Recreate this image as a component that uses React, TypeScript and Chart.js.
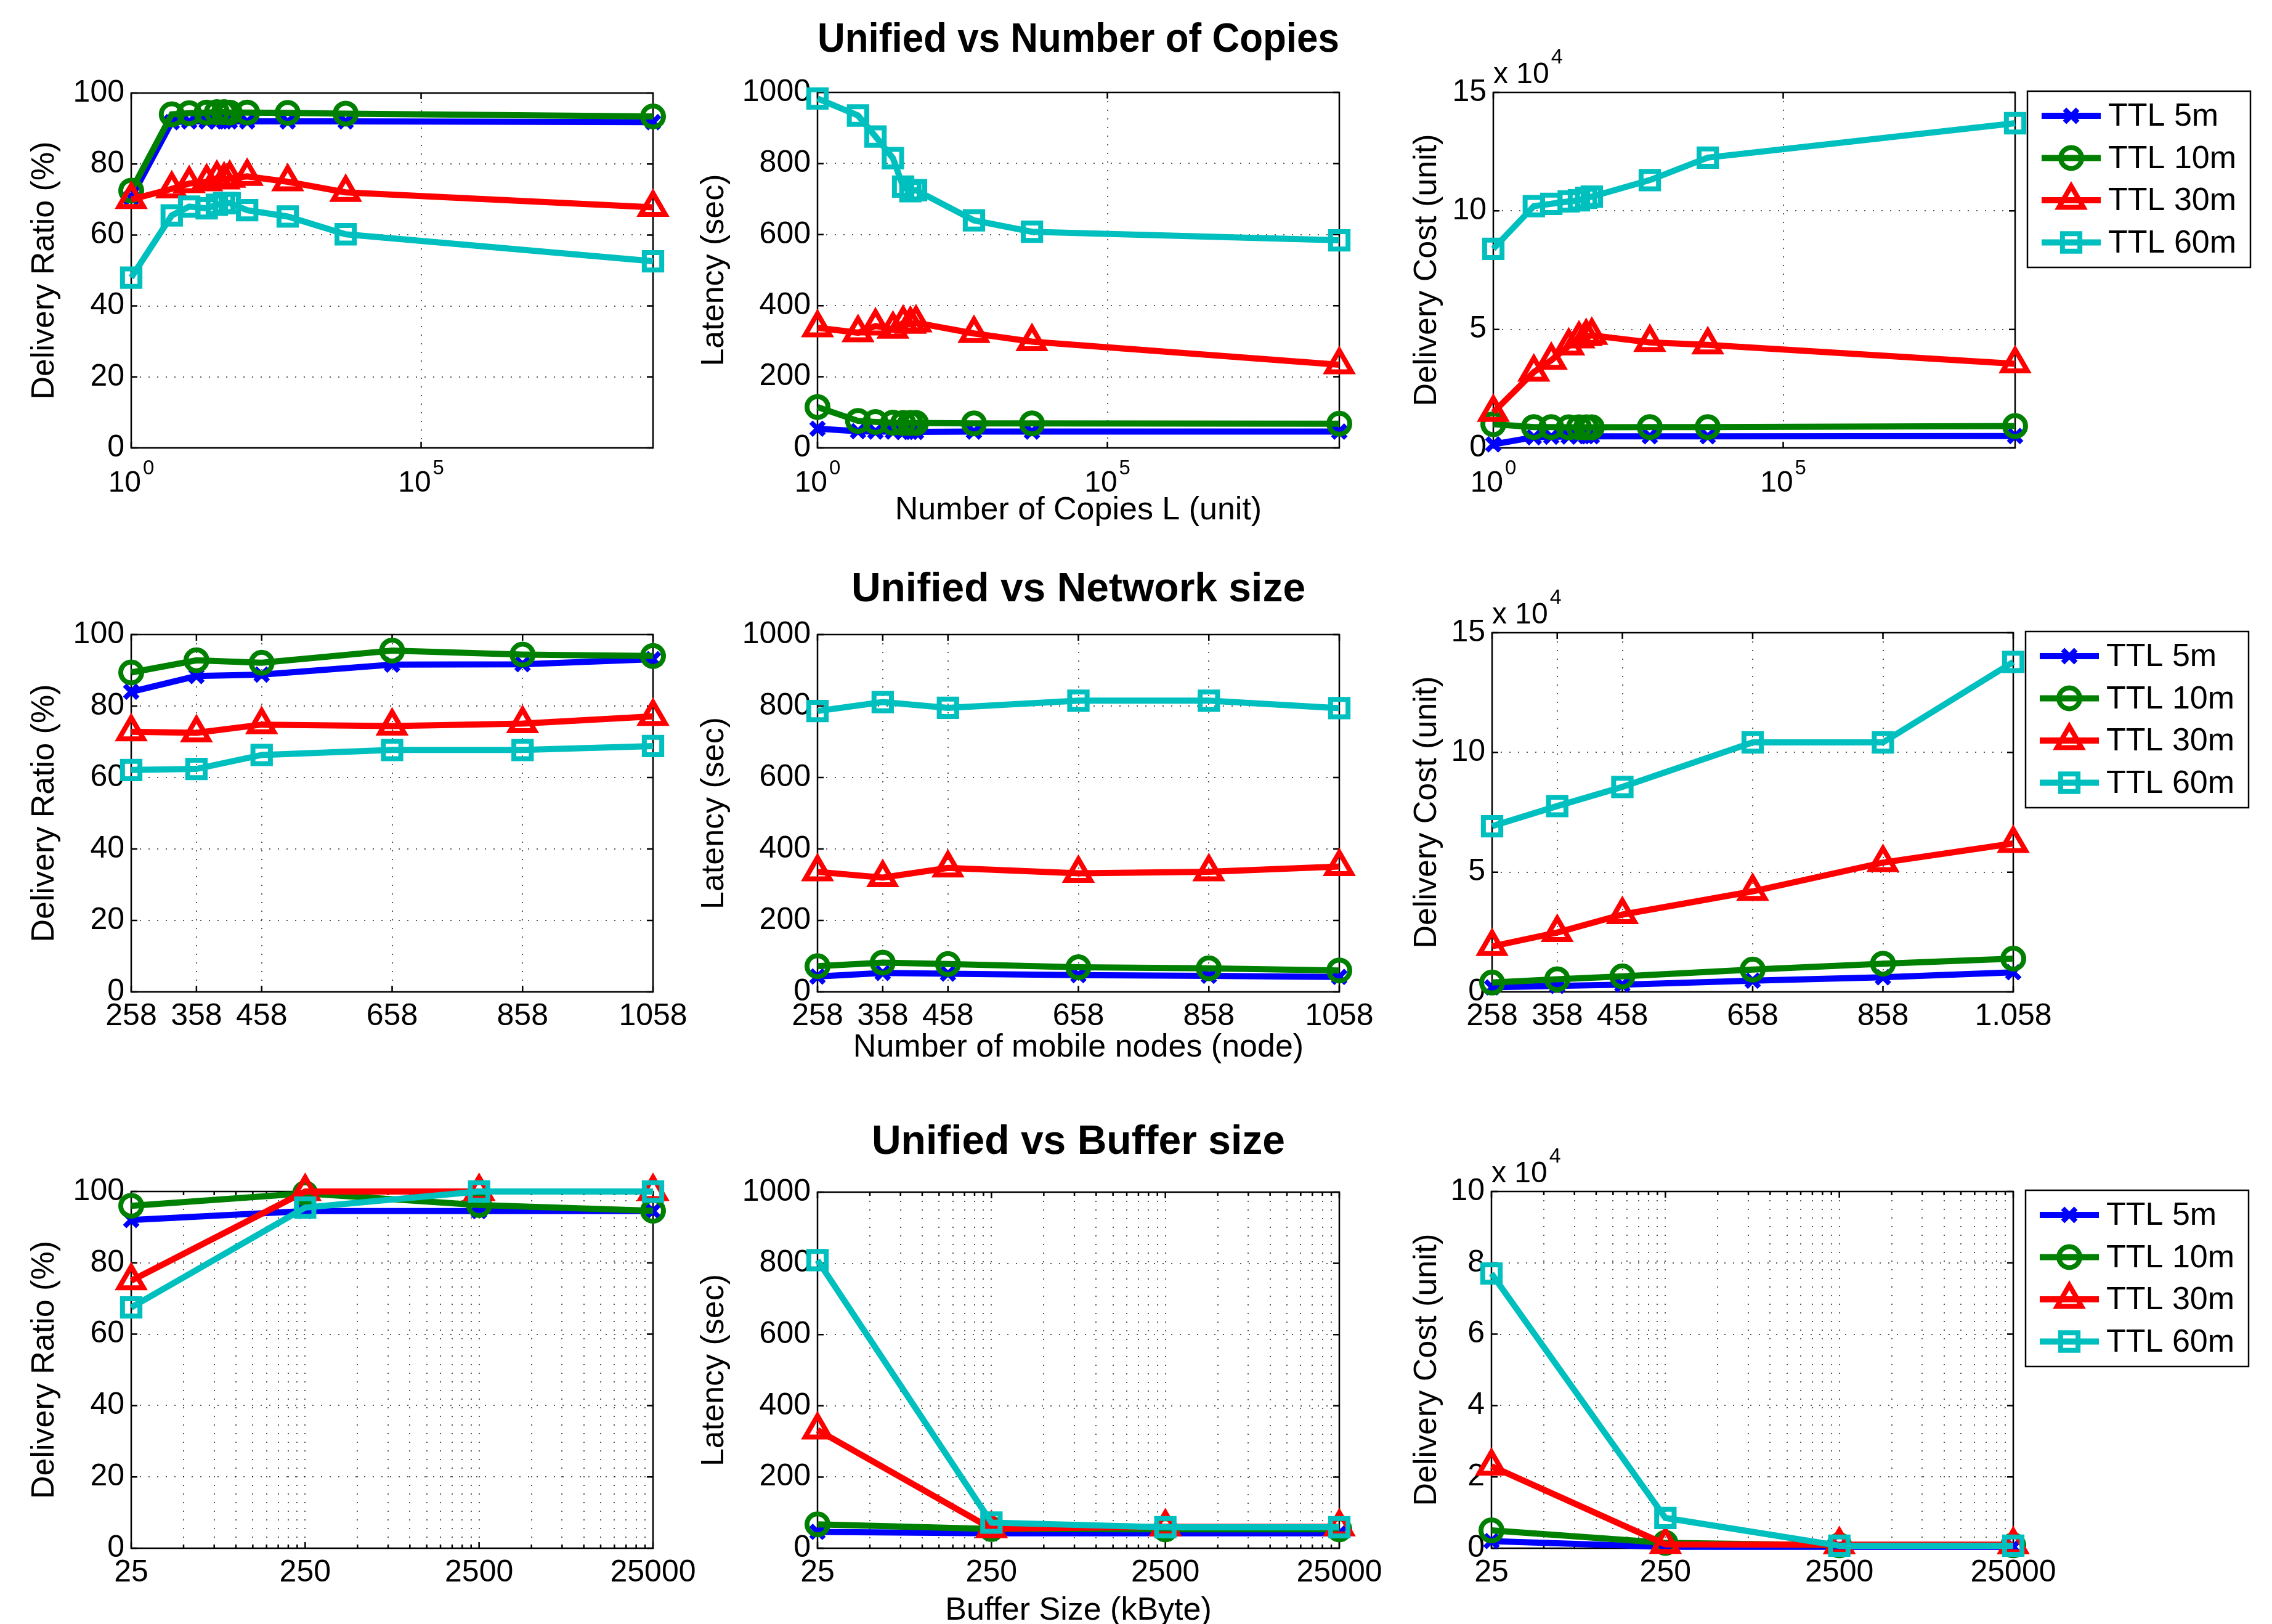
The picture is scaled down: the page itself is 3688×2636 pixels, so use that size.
import React, { useEffect, useRef } from 'react';
import { Chart, registerables } from 'chart.js';

Chart.register(...registerables);

const FONT = '"Liberation Sans", Arial, Helvetica, sans-serif';
Chart.defaults.font.family = FONT;
Chart.defaults.color = '#000';

// ---------- series styling ----------
const seriesLabels = ['TTL 5m', 'TTL 10m', 'TTL 30m', 'TTL 60m'];
const seriesColors = ['#0000ff', '#008000', '#ff0000', '#00bfbf'];
const seriesMarkers = ['crossRot', 'circle', 'triangle', 'rect'];
const seriesMarkerRadius = [15, 17, 23, 20];

// ---------- Row 1: Unified vs Number of Copies ----------
const copiesXRatio = [1, 5, 10, 20, 30, 40, 50, 100, 500, 5000, 1e9];
const copiesX = [1, 5, 10, 20, 30, 40, 50, 500, 5000, 1e9];
const copiesTickValues = [1, 100000];
const copiesTickExponents = ['0', '5'];

const ratioCopies5m = [70.5, 91.8, 92, 92, 92, 92, 92, 92, 92, 92, 91.8];
const ratioCopies10m = [72.5, 94, 94.3, 94.5, 94.6, 94.6, 94.5, 94.5, 94.4, 94.2, 93.4];
const ratioCopies30m = [70, 73, 74.5, 75, 76, 75.5, 76, 76.5, 75, 72, 67.8];
const ratioCopies60m = [48, 65.5, 68, 67.5, 68.5, 69, 69, 67, 65.2, 60.2, 52.6];

const latencyCopies5m = [54, 47, 46, 46, 45, 45, 45, 46, 46, 46];
const latencyCopies10m = [115, 76, 73, 71, 70, 70, 70, 69, 69, 68];
const latencyCopies30m = [338, 324, 343, 334, 351, 348, 352, 322, 299, 234];
const latencyCopies60m = [983, 935, 876, 815, 735, 722, 725, 640, 608, 584];

const costCopies5m = [1500, 4500, 4700, 4800, 4900, 4900, 4900, 4900, 4900, 5000];
const costCopies10m = [10000, 8800, 8800, 8700, 8700, 8700, 8700, 8800, 8800, 9200];
const costCopies30m = [15000, 32000, 37000, 43000, 46000, 47000, 47500, 44500, 43500, 35500];
const costCopies60m = [84000, 102000, 103000, 104000, 104500, 105500, 106000, 113000, 122500, 137000];

// ---------- Row 2: Unified vs Network size ----------
const nodesX = [258, 358, 458, 658, 858, 1058];
const nodesTickValues = [258, 358, 458, 658, 858, 1058];
const nodesTickLabels = ['258', '358', '458', '658', '858', '1058'];
const nodesTickLabelsCost = ['258', '358', '458', '658', '858', '1.058'];

const ratioNodes5m = [84, 88.4, 88.8, 91.6, 91.7, 93.1];
const ratioNodes10m = [89.4, 92.8, 92.1, 95.5, 94.4, 94];
const ratioNodes30m = [72.8, 72.5, 74.8, 74.4, 75.1, 77.1];
const ratioNodes60m = [62.1, 62.4, 66.3, 67.7, 67.7, 68.8];

const latencyNodes5m = [43, 53, 51, 47, 45, 42];
const latencyNodes10m = [72, 82, 78, 69, 66, 60];
const latencyNodes30m = [336, 320, 347, 332, 336, 351];
const latencyNodes60m = [786, 811, 795, 815, 815, 794];

const costNodes5m = [1900, 2500, 3000, 4700, 6100, 8200];
const costNodes10m = [3900, 5300, 6500, 9300, 11800, 13900];
const costNodes30m = [19000, 24800, 32300, 42000, 54000, 62000];
const costNodes60m = [69200, 77600, 85600, 104200, 104200, 137800];

// ---------- Row 3: Unified vs Buffer size ----------
const bufferX = [25, 250, 2500, 25000];
const bufferTickValues = [25, 250, 2500, 25000];
const bufferTickLabels = ['25', '250', '2500', '25000'];
const bufferGridValues = [
  25, 50, 75, 100, 125, 150, 175, 200, 225,
  250, 500, 750, 1000, 1250, 1500, 1750, 2000, 2250,
  2500, 5000, 7500, 10000, 12500, 15000, 17500, 20000, 22500,
  25000,
];

const ratioBuffer5m = [92, 94.5, 94.5, 94.5];
const ratioBuffer10m = [96, 99.5, 96.2, 94.6];
const ratioBuffer30m = [75, 100, 100, 100];
const ratioBuffer60m = [67.5, 95.5, 100, 100];

const latencyBuffer5m = [46, 42, 42, 42];
const latencyBuffer10m = [67, 54, 53, 53];
const latencyBuffer30m = [332, 55, 60, 60];
const latencyBuffer60m = [809, 72, 59, 59];

const costBuffer5m = [2000, 400, 400, 400];
const costBuffer10m = [5000, 1500, 800, 800];
const costBuffer30m = [23000, 1100, 1000, 1000];
const costBuffer60m = [77000, 8500, 700, 700];

// ---------- panel layout ----------
type PanelSpec = {
  id: string;
  box: [number, number, number, number];
  area: [number, number, number, number];
  xType: 'linear' | 'logarithmic';
  xMin: number;
  xMax: number;
  xGrid: number[];
  xMajor: number[];
  xLabels: string[] | null;
  powerExps?: string[];
  xs: number[];
  series: number[][];
  yMax: number;
  yStep: number;
  yDiv: number;
  yTitle: string;
  yTitleX: number;
  xTitle?: string;
  xTitleY?: number;
  title?: string;
  titleY?: number;
  legend?: boolean;
  exponent?: boolean;
};

const C1: [number, number] = [0, 1150];
const C2: [number, number] = [1100, 1160];
const C3: [number, number] = [2240, 1448];
const R1: [number, number] = [0, 880];
const R2: [number, number] = [880, 880];
const R3: [number, number] = [1760, 940];

const YT1 = 73, YT2 = 1160, YT3 = 2317;

const PANELS: PanelSpec[] = [
  {
    id: 'p1', box: [C1[0], R1[0], C1[1], R1[1]], area: [213, 151, 1060, 727],
    xType: 'logarithmic', xMin: 1, xMax: 1e9, xGrid: copiesTickValues, xMajor: copiesTickValues,
    xLabels: null, powerExps: copiesTickExponents, xs: copiesXRatio,
    series: [ratioCopies5m, ratioCopies10m, ratioCopies30m, ratioCopies60m],
    yMax: 100, yStep: 20, yDiv: 1, yTitle: 'Delivery Ratio (%)', yTitleX: YT1,
  },
  {
    id: 'p2', box: [C2[0], R1[0], C2[1], R1[1]], area: [1327, 150, 2174, 727],
    xType: 'logarithmic', xMin: 1, xMax: 1e9, xGrid: copiesTickValues, xMajor: copiesTickValues,
    xLabels: null, powerExps: copiesTickExponents, xs: copiesX,
    series: [latencyCopies5m, latencyCopies10m, latencyCopies30m, latencyCopies60m],
    yMax: 1000, yStep: 200, yDiv: 1, yTitle: 'Latency (sec)', yTitleX: YT2,
    xTitle: 'Number of Copies L (unit)', xTitleY: 829,
    title: 'Unified vs Number of Copies', titleY: 66,
  },
  {
    id: 'p3', box: [C3[0], R1[0], C3[1], R1[1]], area: [2424, 150, 3271, 727],
    xType: 'logarithmic', xMin: 1, xMax: 1e9, xGrid: copiesTickValues, xMajor: copiesTickValues,
    xLabels: null, powerExps: copiesTickExponents, xs: copiesX,
    series: [costCopies5m, costCopies10m, costCopies30m, costCopies60m],
    yMax: 150000, yStep: 50000, yDiv: 10000, yTitle: 'Delivery Cost (unit)', yTitleX: YT3,
    legend: true, exponent: true,
  },
  {
    id: 'p4', box: [C1[0], R2[0], C1[1], R2[1]], area: [213, 1030, 1060, 1610],
    xType: 'linear', xMin: 258, xMax: 1058, xGrid: nodesTickValues, xMajor: nodesTickValues,
    xLabels: nodesTickLabels, xs: nodesX,
    series: [ratioNodes5m, ratioNodes10m, ratioNodes30m, ratioNodes60m],
    yMax: 100, yStep: 20, yDiv: 1, yTitle: 'Delivery Ratio (%)', yTitleX: YT1,
  },
  {
    id: 'p5', box: [C2[0], R2[0], C2[1], R2[1]], area: [1327, 1030, 2174, 1610],
    xType: 'linear', xMin: 258, xMax: 1058, xGrid: nodesTickValues, xMajor: nodesTickValues,
    xLabels: nodesTickLabels, xs: nodesX,
    series: [latencyNodes5m, latencyNodes10m, latencyNodes30m, latencyNodes60m],
    yMax: 1000, yStep: 200, yDiv: 1, yTitle: 'Latency (sec)', yTitleX: YT2,
    xTitle: 'Number of mobile nodes (node)', xTitleY: 1701,
    title: 'Unified vs Network size', titleY: 958,
  },
  {
    id: 'p6', box: [C3[0], R2[0], C3[1], R2[1]], area: [2422, 1027, 3268, 1610],
    xType: 'linear', xMin: 258, xMax: 1058, xGrid: nodesTickValues, xMajor: nodesTickValues,
    xLabels: nodesTickLabelsCost, xs: nodesX,
    series: [costNodes5m, costNodes10m, costNodes30m, costNodes60m],
    yMax: 150000, yStep: 50000, yDiv: 10000, yTitle: 'Delivery Cost (unit)', yTitleX: YT3,
    legend: true, exponent: true,
  },
  {
    id: 'p7', box: [C1[0], R3[0], C1[1], R3[1]], area: [213, 1934, 1060, 2513],
    xType: 'logarithmic', xMin: 25, xMax: 25000, xGrid: bufferGridValues, xMajor: bufferTickValues,
    xLabels: bufferTickLabels, xs: bufferX,
    series: [ratioBuffer5m, ratioBuffer10m, ratioBuffer30m, ratioBuffer60m],
    yMax: 100, yStep: 20, yDiv: 1, yTitle: 'Delivery Ratio (%)', yTitleX: YT1,
  },
  {
    id: 'p8', box: [C2[0], R3[0], C2[1], R3[1]], area: [1327, 1935, 2174, 2513],
    xType: 'logarithmic', xMin: 25, xMax: 25000, xGrid: bufferGridValues, xMajor: bufferTickValues,
    xLabels: bufferTickLabels, xs: bufferX,
    series: [latencyBuffer5m, latencyBuffer10m, latencyBuffer30m, latencyBuffer60m],
    yMax: 1000, yStep: 200, yDiv: 1, yTitle: 'Latency (sec)', yTitleX: YT2,
    xTitle: 'Buffer Size (kByte)', xTitleY: 2615,
    title: 'Unified vs Buffer size', titleY: 1855,
  },
  {
    id: 'p9', box: [C3[0], R3[0], C3[1], R3[1]], area: [2421, 1934, 3268, 2513],
    xType: 'logarithmic', xMin: 25, xMax: 25000, xGrid: bufferGridValues, xMajor: bufferTickValues,
    xLabels: bufferTickLabels, xs: bufferX,
    series: [costBuffer5m, costBuffer10m, costBuffer30m, costBuffer60m],
    yMax: 100000, yStep: 20000, yDiv: 10000, yTitle: 'Delivery Cost (unit)', yTitleX: YT3,
    legend: true, exponent: true,
  },
];

const GRID_COLOR = 'rgba(0,0,0,0.65)';
const GRID_DASH = [2, 12];
const LINE_WIDTH = 10;
const MARKER_EDGE = 8;

function drawMarker(ctx: CanvasRenderingContext2D, style: string, x: number, y: number, r: number) {
  ctx.beginPath();
  if (style === 'circle') {
    ctx.arc(x, y, r, 0, Math.PI * 2);
  } else if (style === 'rect') {
    const s = r * Math.SQRT1_2;
    ctx.rect(x - s, y - s, 2 * s, 2 * s);
  } else if (style === 'triangle') {
    for (let k = 0; k < 3; k++) {
      const a = (k * 2 * Math.PI) / 3;
      const px = x + Math.sin(a) * r;
      const py = y - Math.cos(a) * r;
      if (k === 0) ctx.moveTo(px, py);
      else ctx.lineTo(px, py);
    }
    ctx.closePath();
  } else {
    const o = r * Math.SQRT1_2;
    ctx.moveTo(x - o, y - o);
    ctx.lineTo(x + o, y + o);
    ctx.moveTo(x + o, y - o);
    ctx.lineTo(x - o, y + o);
  }
  ctx.stroke();
}

function makeFramePlugin(s: PanelSpec) {
  return {
    id: 'frame_' + s.id,
    beforeDatasetsDraw(chart: any) {
      const { ctx, chartArea: a, scales } = chart;
      ctx.save();
      ctx.strokeStyle = '#000';
      ctx.lineWidth = 2.5;
      ctx.setLineDash([]);
      ctx.strokeRect(a.left, a.top, a.right - a.left, a.bottom - a.top);
      ctx.beginPath();
      scales.x.ticks.forEach((t: any) => {
        const px = scales.x.getPixelForValue(t.value);
        const len = s.xMajor.indexOf(t.value) >= 0 ? 10 : 6;
        ctx.moveTo(px, a.bottom);
        ctx.lineTo(px, a.bottom - len);
        ctx.moveTo(px, a.top);
        ctx.lineTo(px, a.top + len);
      });
      scales.y.ticks.forEach((t: any) => {
        const py = scales.y.getPixelForValue(t.value);
        ctx.moveTo(a.left, py);
        ctx.lineTo(a.left + 10, py);
        ctx.moveTo(a.right, py);
        ctx.lineTo(a.right - 10, py);
      });
      ctx.stroke();
      ctx.restore();
    },
  };
}

function makePowerLabelPlugin(s: PanelSpec) {
  return {
    id: 'pow_' + s.id,
    afterDraw(chart: any) {
      const { ctx, chartArea: a, scales } = chart;
      const exps = s.powerExps || [];
      ctx.save();
      ctx.fillStyle = '#000';
      ctx.textBaseline = 'alphabetic';
      ctx.textAlign = 'left';
      s.xMajor.forEach((v, i) => {
        const px = scales.x.getPixelForValue(v);
        ctx.font = `48px ${FONT}`;
        const w1 = ctx.measureText('10').width;
        ctx.font = `33px ${FONT}`;
        const w2 = ctx.measureText(exps[i]).width;
        const start = px - (w1 + w2 + 3) / 2;
        ctx.font = `48px ${FONT}`;
        ctx.fillText('10', start, a.bottom + 71);
        ctx.font = `33px ${FONT}`;
        ctx.fillText(exps[i], start + w1 + 3, a.bottom + 43);
      });
      ctx.restore();
    },
  };
}

const exponentPlugin = {
  id: 'exponentLabel',
  afterDraw(chart: any) {
    const { ctx, chartArea: a } = chart;
    ctx.save();
    ctx.fillStyle = '#000';
    ctx.textAlign = 'left';
    ctx.textBaseline = 'alphabetic';
    ctx.font = `48px ${FONT}`;
    const w = ctx.measureText('x 10').width;
    ctx.fillText('x 10', a.left, a.top - 15);
    ctx.font = `34px ${FONT}`;
    ctx.fillText('4', a.left + w + 3, a.top - 47);
    ctx.restore();
  },
};

const legendPlugin = {
  id: 'matLegend',
  afterDraw(chart: any) {
    const { ctx, chartArea: a } = chart;
    const bx = a.right + 20;
    const by = a.top - 2;
    const bw = 362;
    const bh = 286;
    ctx.save();
    ctx.fillStyle = '#fff';
    ctx.fillRect(bx, by, bw, bh);
    ctx.strokeStyle = '#000';
    ctx.lineWidth = 2.5;
    ctx.setLineDash([]);
    ctx.strokeRect(bx, by, bw, bh);
    chart.data.datasets.forEach((ds: any, i: number) => {
      const cy = by + 40 + i * 68.5;
      ctx.strokeStyle = ds.borderColor;
      ctx.lineWidth = ds.borderWidth;
      ctx.lineCap = 'butt';
      ctx.beginPath();
      ctx.moveTo(bx + 23, cy);
      ctx.lineTo(bx + 119, cy);
      ctx.stroke();
      ctx.lineWidth = ds.pointBorderWidth;
      drawMarker(ctx, ds.pointStyle, bx + 71, cy, ds.pointRadius);
      ctx.fillStyle = '#000';
      ctx.font = `52px ${FONT}`;
      ctx.textBaseline = 'middle';
      ctx.textAlign = 'left';
      ctx.fillText(ds.label, bx + 131, cy + 2);
    });
    ctx.restore();
  },
};

function buildConfig(s: PanelSpec): any {
  const [cx, cy, cw, ch] = s.box;
  const [L, T, R, B] = s.area;
  const TITLE_LH = 66 * 1.2;
  const AXIS_LH = 52 * 1.2;
  const tPadTop = s.title ? (s.titleY as number) - cy - TITLE_LH / 2 : 0;
  const tPadBottom = s.title ? T - cy - tPadTop - TITLE_LH : 0;

  const datasets = s.series.map((ys, i) => ({
    label: seriesLabels[i],
    data: ys.map((y, j) => ({ x: s.xs[j], y })),
    borderColor: seriesColors[i],
    borderWidth: LINE_WIDTH,
    pointStyle: seriesMarkers[i],
    pointRadius: seriesMarkerRadius[i],
    pointBorderWidth: MARKER_EDGE,
    pointBorderColor: seriesColors[i],
    pointBackgroundColor: 'rgba(0,0,0,0)',
    tension: 0,
    fill: false,
    clip: false,
    order: 3 - i,
  }));

  const plugins: any[] = [makeFramePlugin(s)];
  if (s.powerExps) plugins.push(makePowerLabelPlugin(s));
  if (s.exponent) plugins.push(exponentPlugin);
  if (s.legend) plugins.push(legendPlugin);

  return {
    type: 'line',
    data: { datasets },
    options: {
      responsive: false,
      maintainAspectRatio: false,
      devicePixelRatio: 1,
      animation: false,
      events: [],
      layout: {
        padding: { left: 0, top: s.title ? 0 : T - cy, right: cx + cw - R, bottom: 0 },
      },
      plugins: {
        legend: { display: false },
        tooltip: { enabled: false },
        title: {
          display: !!s.title,
          text: s.title || '',
          fullSize: false,
          color: '#000',
          font: { family: FONT, size: 66, weight: 'bold' },
          padding: { top: tPadTop, bottom: tPadBottom },
        },
      },
      scales: {
        x: {
          type: s.xType,
          min: s.xMin,
          max: s.xMax,
          afterBuildTicks: (sc: any) => {
            sc.ticks = s.xGrid.map((v) => ({ value: v }));
          },
          afterFit: (sc: any) => {
            sc.height = cy + ch - B;
          },
          ticks: {
            display: !s.powerExps,
            autoSkip: false,
            maxRotation: 0,
            minRotation: 0,
            padding: 10,
            color: '#000',
            font: { family: FONT, size: 50 },
            callback: (v: any) => {
              const i = s.xMajor.indexOf(Number(v));
              return i >= 0 && s.xLabels ? s.xLabels[i] : '';
            },
          },
          grid: { color: GRID_COLOR, lineWidth: 2, drawTicks: false, borderDash: GRID_DASH },
          border: { display: false, dash: GRID_DASH },
          title: {
            display: !!s.xTitle,
            text: s.xTitle || '',
            color: '#000',
            font: { family: FONT, size: 52 },
            padding: { top: 0, bottom: s.xTitle ? cy + ch - (s.xTitleY as number) - AXIS_LH / 2 : 0 },
          },
        },
        y: {
          type: 'linear',
          min: 0,
          max: s.yMax,
          afterFit: (sc: any) => {
            sc.width = L - cx;
          },
          ticks: {
            stepSize: s.yStep,
            padding: 11,
            color: '#000',
            font: { family: FONT, size: 50 },
            callback: (v: any) => String(Number(v) / s.yDiv),
          },
          grid: { color: GRID_COLOR, lineWidth: 2, drawTicks: false, borderDash: GRID_DASH },
          border: { display: false, dash: GRID_DASH },
          title: {
            display: true,
            text: s.yTitle,
            color: '#000',
            font: { family: FONT, size: 52 },
            padding: { top: s.yTitleX - cx - AXIS_LH / 2, bottom: 0 },
          },
        },
      },
    },
    plugins,
  };
}

function PanelChart({ spec }: { spec: PanelSpec }) {
  const ref = useRef<HTMLCanvasElement | null>(null);
  useEffect(() => {
    if (!ref.current) return;
    const chart = new Chart(ref.current, buildConfig(spec));
    return () => chart.destroy();
  }, [spec]);
  const [x, y, w, h] = spec.box;
  return (
    <canvas
      ref={ref}
      width={w}
      height={h}
      style={{ position: 'absolute', left: x, top: y, width: w, height: h }}
    />
  );
}

export default function App() {
  return (
    <div
      style={{
        position: 'absolute',
        left: 0,
        top: 0,
        width: 3688,
        height: 2636,
        overflow: 'hidden',
        background: '#fff',
      }}
    >
      {PANELS.map((p) => (
        <PanelChart key={p.id} spec={p} />
      ))}
    </div>
  );
}
